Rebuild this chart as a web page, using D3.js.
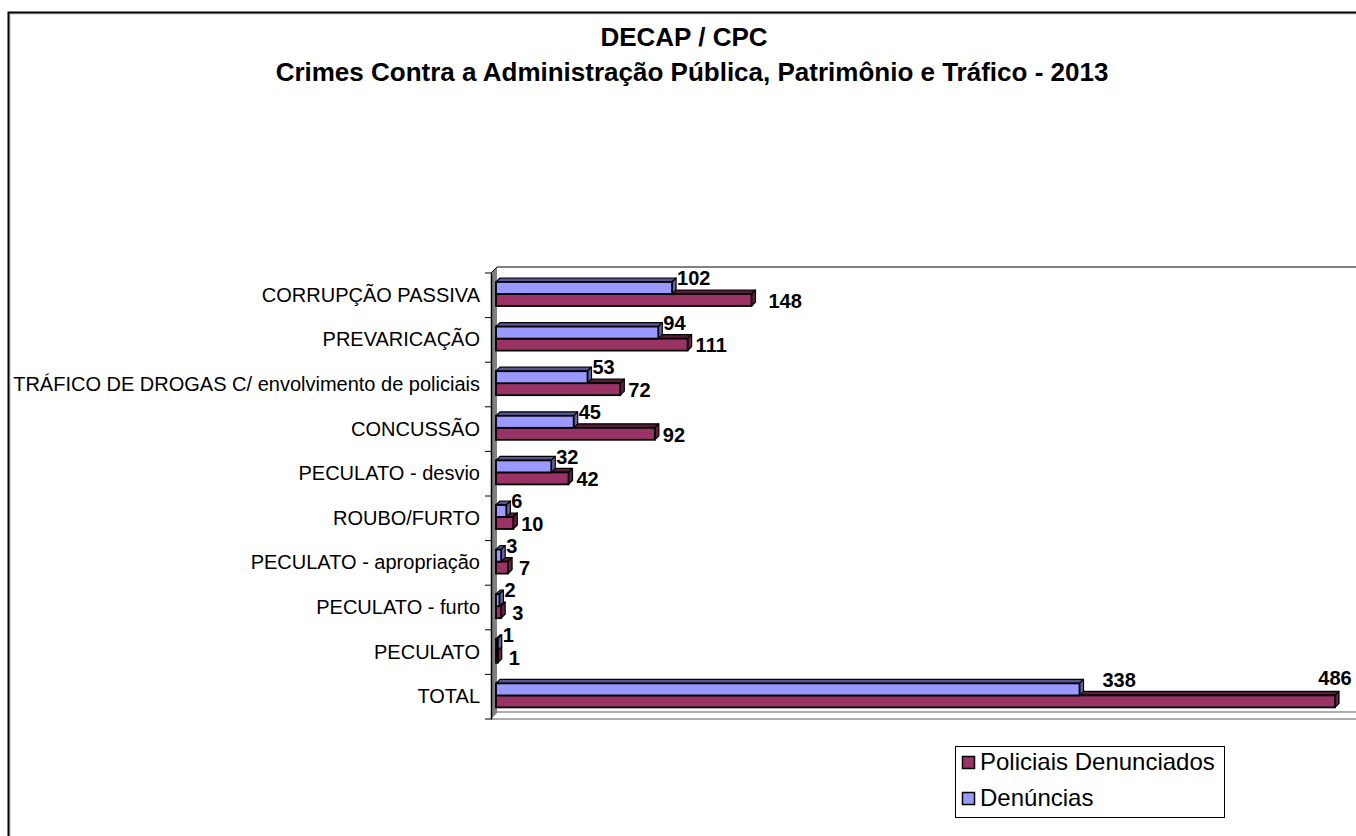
<!DOCTYPE html>
<html><head><meta charset="utf-8">
<script src="https://cdn.jsdelivr.net/npm/d3@7"></script>
<style>body{margin:0;background:#fff;}svg{display:block;font-family:"Liberation Sans",Arial,sans-serif;}</style>
</head><body>
<svg id="c" width="1356" height="836"></svg>
<script>
const categories = ["CORRUPÇÃO PASSIVA","PREVARICAÇÃO","TRÁFICO DE DROGAS C/ envolvimento de policiais","CONCUSSÃO","PECULATO - desvio","ROUBO/FURTO","PECULATO - apropriação","PECULATO - furto","PECULATO","TOTAL"];
const denuncias = [102,94,53,45,32,6,3,2,1,338];
const policiais = [148,111,72,92,42,10,7,3,1,486];
const seriesNames = ["Policiais Denunciados","Denúncias"];
const titleLines = ["DECAP / CPC","Crimes Contra a Administração Pública, Patrimônio e Tráfico - 2013"];

(function(){
const W = 1356, H = 836;
const svg = d3.select("#c");
const blue = "#9999FF", red = "#993366";

// outer border
svg.append("path").attr("d","M10,838 V14 H1360").attr("fill","none").attr("stroke","#bbb").attr("stroke-width",1);
svg.append("path").attr("d","M8.5,840 V12.5 H1360").attr("fill","none").attr("stroke","#000").attr("stroke-width",2);

// title
svg.selectAll("text.title").data(titleLines).enter().append("text").attr("class","title")
  .attr("x",(d,i)=> i===0?684:692).attr("y",(d,i)=>39+i*35)
  .attr("text-anchor","middle").attr("dominant-baseline","middle")
  .attr("font-weight","bold").attr("font-size",26).text(d=>d);

const axX = 491, yTop = 273, yBot = 719, wd = 6; // wall depth
const x = d3.scaleLinear().domain([0,500]).range([496, 496 + 500*(1335-496)/486]);
const y = d3.scaleBand().domain(categories).range([yTop,yBot]);

// walls
svg.append("polygon").attr("points",`${axX},${yTop} ${axX+wd},${yTop-wd} ${axX+wd},${yBot-wd} ${axX},${yBot}`).attr("fill","#808080");
svg.append("line").attr("x1",axX+wd).attr("x2",W+5).attr("y1",yTop-wd).attr("y2",yTop-wd).attr("stroke","#808080").attr("stroke-width",2);
svg.append("line").attr("x1",axX+wd).attr("x2",W+5).attr("y1",yBot-wd-1).attr("y2",yBot-wd-1).attr("stroke","#909090").attr("stroke-width",1.5);
svg.append("line").attr("x1",axX).attr("x2",W+5).attr("y1",yBot).attr("y2",yBot).attr("stroke","#909090").attr("stroke-width",1.5);
svg.append("line").attr("x1",axX).attr("x2",axX+wd).attr("y1",yTop).attr("y2",yTop-wd).attr("stroke","#000");

// axis
const yAxis = d3.axisLeft(y).tickSize(0).tickPadding(11);
const ag = svg.append("g").attr("transform",`translate(${axX},0)`).call(yAxis);
ag.select(".domain").attr("stroke","#000").attr("stroke-width",1.5);
ag.selectAll("text").attr("font-size",20).attr("fill","#000").attr("font-family","Liberation Sans, Arial, sans-serif");
const bounds = categories.map(c=>y(c)).concat([yBot]);
svg.selectAll("line.tk").data(bounds).enter().append("line").attr("class","tk")
  .attr("x1",axX-6).attr("x2",axX).attr("y1",d=>d).attr("y2",d=>d).attr("stroke","#000");

const d3d = 4, bh = 12;
function bar3d(g, x0, x1, yy, col){
  const c = d3.color(col);
  const topC = c.darker(1.6).toString(), sideC = c.darker(1.2).toString();
  g.append("polygon").attr("points",`${x0},${yy} ${x0+d3d},${yy-d3d} ${x1+d3d},${yy-d3d} ${x1},${yy}`)
    .attr("fill",topC).attr("stroke","#000").attr("stroke-width",1.2).attr("stroke-linejoin","round");
  g.append("polygon").attr("points",`${x1},${yy} ${x1+d3d},${yy-d3d} ${x1+d3d},${yy+bh-d3d} ${x1},${yy+bh}`)
    .attr("fill",sideC).attr("stroke","#000").attr("stroke-width",1.2).attr("stroke-linejoin","round");
  g.append("rect").attr("x",x0).attr("y",yy).attr("width",Math.max(0,x1-x0)).attr("height",bh)
    .attr("fill",col).attr("stroke","#000").attr("stroke-width",1.8);
}

const bg = svg.append("g");
categories.forEach((c,i)=>{
  const t = y(c);
  bar3d(bg, x(0), x(policiais[i]), t+21, red);
  bar3d(bg, x(0), x(denuncias[i]), t+9, blue);
});

// labels
const lg = svg.append("g").attr("font-weight","bold").attr("font-size",20).attr("dominant-baseline","middle");
categories.forEach((c,i)=>{
  const t = y(c);
  const xb = x(denuncias[i]);
  lg.append("text").attr("x", i===9 ? xb+23 : xb+d3d+1).attr("y",t+7).text(denuncias[i]);
  const xr = x(policiais[i]);
  if (xr + 45 > W) {
    lg.append("text").attr("x",xr).attr("y",t+5).attr("text-anchor","middle").text(policiais[i]);
  } else {
    const off = i===0 ? 13 : (policiais[i] < 10 ? 7 : 4);
    lg.append("text").attr("x",xr+d3d+off).attr("y",t+29.5).text(policiais[i]);
  }
});

// legend
const leg = svg.append("g");
leg.append("rect").attr("x",955.5).attr("y",746.5).attr("width",269).attr("height",71).attr("fill","#fff").attr("stroke","#000");
[[red,seriesNames[0],763],[blue,seriesNames[1],799]].forEach(([col,name,cy])=>{
  leg.append("rect").attr("x",962.5).attr("y",cy-6.5).attr("width",12).attr("height",12).attr("fill",col).attr("stroke","#000").attr("stroke-width",1.5);
  leg.append("text").attr("x",980).attr("y",cy+1).attr("dominant-baseline","middle").attr("font-size",24).text(name);
});
})();
</script>
</body></html>
